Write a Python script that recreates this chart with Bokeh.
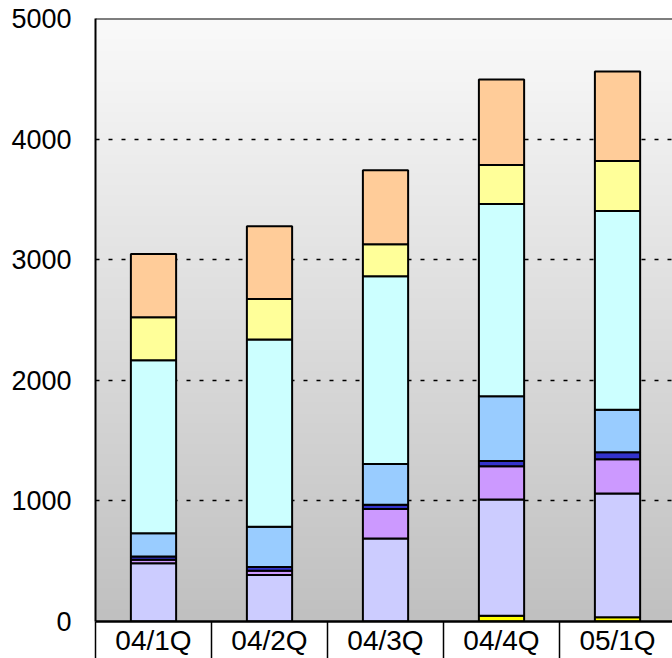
import numpy as np
from bokeh.plotting import figure
from bokeh.models import ColumnDataSource, FixedTicker, Range1d, Span
from bokeh.embed import file_html
from bokeh.resources import INLINE

categories = ["04/1Q", "04/2Q", "04/3Q", "04/4Q", "05/1Q"]
base_yellow = [0, 0, 0, 48, 35]
lavender = [482, 385, 689, 964, 1027]
purple = [30, 35, 243, 276, 284]
dark_blue = [28, 32, 36, 42, 58]
light_blue = [191, 333, 337, 538, 351]
cyan = [1436, 1553, 1557, 1594, 1649]
pale_yellow = [356, 337, 266, 323, 415]
peach = [525, 602, 613, 709, 742]
y_ticks = [0, 1000, 2000, 3000, 4000, 5000]

series = ["base_yellow", "lavender", "purple", "dark_blue", "light_blue", "cyan", "pale_yellow", "peach"]
colors = ["#FFFF00", "#CCCCFF", "#CC99FF", "#3333CC", "#99CCFF", "#CCFFFF", "#FFFF99", "#FFCC99"]

xs = list(range(len(categories)))
source = ColumnDataSource(dict(x=xs, base_yellow=base_yellow, lavender=lavender, purple=purple,
                               dark_blue=dark_blue, light_blue=light_blue, cyan=cyan,
                               pale_yellow=pale_yellow, peach=peach))

x_end = 4.474
p = figure(width=672, height=658, x_range=Range1d(-0.5, x_end), y_range=Range1d(0, 5000),
           output_backend="svg", toolbar_location=None,
           min_border_left=95, min_border_right=0, min_border_top=18, min_border_bottom=36)
p.border_fill_color = "white"
p.outline_line_color = None

# gradient background of the plot area
n = 256
t = np.linspace(0, 1, n)
g = (192 + (250 - 192) * t).astype(np.uint32)
img = np.zeros((n, 1), dtype=np.uint32)
view = img.view(dtype=np.uint8).reshape((n, 1, 4))
view[:, 0, 0] = g
view[:, 0, 1] = g
view[:, 0, 2] = g
view[:, 0, 3] = 255
p.image_rgba(image=[img], x=-0.5, y=0, dw=x_end + 0.5, dh=5000, level="image")

p.vbar_stack(series, x="x", width=0.39, color=colors, source=source,
             line_color="black", line_width=2)

p.xgrid.visible = False
p.ygrid.ticker = FixedTicker(ticks=y_ticks)
p.ygrid.grid_line_color = "black"
p.ygrid.grid_line_dash = "4 9"
p.ygrid.grid_line_width = 1.5

p.add_layout(Span(location=5000, dimension="width", line_color="black", line_width=2))

ya = p.yaxis[0]
ya.ticker = FixedTicker(ticks=y_ticks, minor_ticks=[])
ya.major_tick_out = 0
ya.major_tick_in = 0
ya.minor_tick_out = 0
ya.axis_line_width = 2
ya.axis_line_color = "black"
ya.major_label_standoff = 24
ya.major_label_text_font = "Liberation Sans"
ya.major_label_text_font_size = "27px"
ya.major_label_text_color = "black"

xa = p.xaxis[0]
xa.ticker = FixedTicker(ticks=xs, minor_ticks=[i - 0.5 for i in range(len(categories) + 1)])
xa.major_label_overrides = {i: c for i, c in enumerate(categories)}
xa.major_tick_out = 0
xa.major_tick_in = 0
xa.minor_tick_in = 0
xa.minor_tick_out = 40
xa.minor_tick_line_color = "black"
xa.minor_tick_line_width = 1.5
xa.axis_line_width = 2.5
xa.axis_line_color = "black"
xa.major_label_standoff = -37
xa.major_label_text_font = "Liberation Sans"
xa.major_label_text_font_size = "28px"
xa.major_label_text_color = "black"

open("out.html", "w").write(file_html(p, INLINE))
